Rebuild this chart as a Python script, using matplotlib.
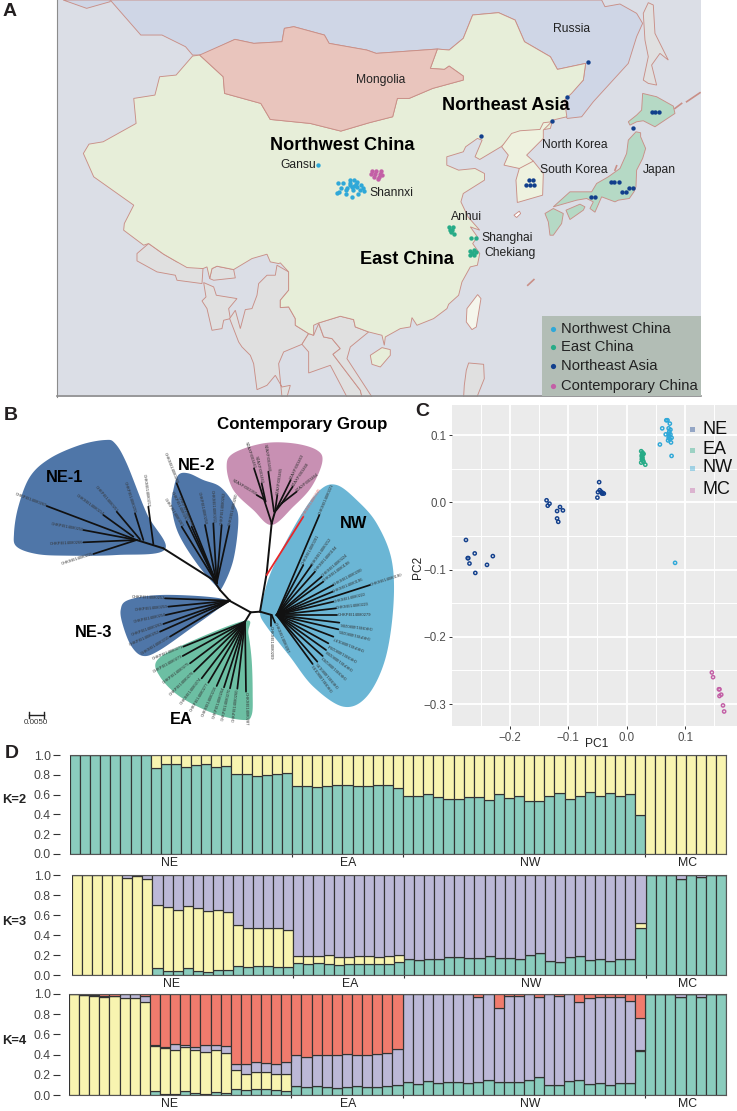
import numpy as np
import matplotlib
matplotlib.use('Agg')
import matplotlib.pyplot as plt
from matplotlib.patches import Polygon, Rectangle

W, H = 737, 1111
SANS = 'Liberation Sans'
plt.rcParams['font.family'] = SANS

# ---------- Panel A: map outlines (three working frames) ----------
def from_north(pts):   # close-up frame of the north-east part
    return [(1020.5+x*.708, y) for x, y in pts]
def from_south(pts):   # close-up frame of the southern part
    return [(122+x*.708, 690+y) for x, y in pts]

russia_west = [(235,0),(300,105),(345,105),(395,140),(410,165),(430,165),(500,118),(540,130),(600,125),(605,85),(625,80),(690,105),(700,130),(780,150),(800,160),(930,147),(955,150),(985,115),(1005,45),(1060,38),(1095,60),(1115,125),(1170,170),(1185,208),(1245,190),(1240,240),(1200,300)]
russia_coast = [(225,355),(255,345),(262,355),(305,350),(340,305),(445,190),(470,110),(488,70),(470,40),(420,12),(375,20),(365,0)]
russia_nw = [(135,0),(185,25),(235,5),(235,0)]
china_north = [(410,168),(425,165),(475,230),(478,280),(555,310),(575,358),(660,370),(725,393),(785,368),(835,350),(845,295),(870,295),(920,265),(985,240),(985,228),(955,198),(945,208),(915,205),(930,147),(955,150),(985,115),(1005,45),(1060,38),(1095,60),(1115,125),(1170,170),(1185,208),(1245,190),(1240,240),(1215,280),(1200,300),(1205,350),(1175,360),(1170,385),(1130,395),(1095,405),(1065,440),(1020,478),(1010,470),(1025,420),(1015,415),(990,440),(985,455),(950,470),(950,495),(975,510),(1010,505),(1030,520),(1030,540),(985,580),(980,605),(995,650),(1020,690),(1000,680),(1015,710),(1005,730),(1020,760),(1015,795)]
china_south = [(1240,110),(1215,155),(1205,195),(1175,222),(1170,235),(1130,265),(1080,285),(1065,262),(1060,290),(1030,295),(985,320),(982,345),(975,315),(935,305),(895,290),(890,268),(850,258),(785,278),(770,285),(770,315),(755,310),(715,285),(715,265),(695,230),(670,232),(670,210),(695,180),(695,125),(670,98),(665,100),(640,95),(630,72),(585,85),(530,118),(480,108),(465,115),(458,145),(450,110),(438,115),(390,112),(360,95),(320,72),(275,40),(260,45),(200,0)]
china_west = [(265,670),(285,615),(245,575),(200,530),(178,460),(190,432),(220,425),(290,370),(285,295),(330,285),(340,230),(375,225)]
mongolia_outline = [(425,165),(500,118),(540,130),(600,125),(605,85),(625,80),(690,105),(700,130),(780,150),(800,160),(930,147),(915,205),(945,208),(955,198),(985,228),(985,240),(920,265),(870,295),(845,295),(835,350),(785,368),(725,393),(660,370),(575,358),(555,310),(478,280),(475,230)]
korea_outline = [(215,365),(190,368),(180,388),(120,392),(95,400),(65,440),(85,465),(72,495),(118,505),(108,540),(112,607),(188,585),(190,520),(160,483),(140,465),(190,415),(190,390)]
korea_border = [(118,505),(160,483)]
honshu_outline = [(468,395),(482,398),(482,410),(497,445),(488,475),(470,510),(468,560),(462,575),(448,595),(415,600),(405,605),(365,590),(345,636),(330,625),(340,605),(320,595),(290,600),(220,620),(270,575),(335,575),(350,550),(385,530),(420,505),(440,460),(445,420)]
hokkaido_outline = [(488,280),(530,290),(580,318),(585,340),(525,380),(490,362),(470,365),(450,375),(445,365),(470,345),(485,330)]
kyushu_outline = [(195,640),(220,625),(250,640),(245,670),(220,705),(210,705),(205,665)]
shikoku_outline = [(258,630),(300,612),(315,620),(310,630),(270,658)]
jeju_outline = [(102,645),(118,633),(122,640),(110,652)]
sakhalin_outline = [(490,40),(505,8),(520,15),(525,100),(565,180),(540,160),(515,195),(530,255),(505,250),(490,240),(505,170),(495,120)]
kuril_a = [(585,325),(605,310)]
kuril_b = [(620,305),(660,278)]
sado_line = [(405,510),(410,497)]
nepal_outline = [(275,40),(240,70),(240,92),(300,125),(355,135),(360,150),(435,160),(438,115),(360,95),(320,72)]
bhutan_outline = [(458,145),(465,115),(480,108),(530,118),(535,143),(470,150)]
bangla_outline = [(440,157),(470,170),(478,195),(540,205),(515,235),(520,265),(500,270),(495,295),(465,300),(450,235),(435,212),(447,200)]
myanmar_outline = [(660,105),(655,135),(630,135),(605,160),(600,195),(585,235),(565,238),(550,295),(535,240),(518,265),(545,335),(555,350),(580,375),(590,400),(600,478),(630,465),(655,435),(675,470),(700,465),(690,500),(675,500),(665,400),(680,365),(735,342),(755,310),(715,285),(715,265),(695,230),(670,232),(670,210),(695,180),(695,125)]
thai_outline = [(735,342),(755,310),(770,315),(785,280),(800,320),(825,325),(850,355),(828,372),(910,480),(915,500),(870,500),(820,405),(755,428),(755,365)]
indochina_outline = [(785,278),(850,258),(890,268),(895,290),(935,305),(880,350),(870,385),(945,500),(915,500),(910,480),(828,372),(850,355),(825,325),(800,320)]
hainan_outline = [(940,375),(975,352),(1000,358),(1000,375),(970,410),(945,402)]
taiwan_outline = [(1262,193),(1272,205),(1258,290),(1245,298),(1228,275),(1230,235)]
luzon_outline = [(1235,398),(1280,402),(1282,445),(1260,500),(1220,500),(1222,465),(1228,420)]
diaoyu_line = [(1122,855),(1135,838)]

map_nw_pts = [(718,550),(730,548),(745,540),(752,540),(760,545),(768,555),(772,565),(745,555),(752,558),(760,560),(738,565),(725,565),(720,575),(735,570),(750,570),(765,570),(775,572),(735,582),(748,592),(762,582),(716,578),(745,548),(757,552),(748,562),(677,495)]
map_mc_pts = [(792,512),(800,512),(810,514),(790,522),(798,522),(808,522),(796,530),(806,530),(803,538),(812,525)]
map_ea_pts = [(955,680),(963,680),(957,688),(962,690),(958,695),(965,700),(1002,712),(1012,712),(1000,752),(1008,750),(1004,758),(1000,765),(1007,765),(1012,755)]
map_ne_pts = [(1250,186),(1205,290),(1173,362),(1022,409),(1345,383),(1385,335),(1393,335),(1400,335),(1125,540),(1133,540),(1119,555),(1127,555),(1136,555),(1298,545),(1306,545),(1316,545),(1338,565),(1346,565),(1322,576),(1330,576),(1256,590),(1265,590)]
map_small_labels = [('Russia',1216,88),('Mongolia',810,240),('North Korea',1222,435),('South Korea',1220,510),('Japan',1402,510),('Gansu',635,494),('Shannxi',833,580),('Anhui',992,651),('Shanghai',1079,712),('Chekiang',1084,758)]
map_big_labels = [('Northeast Asia',1075,317),('Northwest China',728,435),('East China',865,779)]
map_legend_names = ['Northwest China','East China','Northeast Asia','Contemporary China']
map_legend_ys = [985,1040,1097,1158]

C_NW, C_EA, C_NE, C_MC = '#2fa8d8', '#27ab87', '#123f8c', '#c35fa6'

# ---------- Panel B: unrooted tree ----------
blob_ne1 = [(495,448),(440,340),(380,190),(345,130),(315,120),(240,135),(150,175),(90,230),(55,320),(42,400),(50,440),(110,462),(200,467),(350,465)]
blob_ne2 = [(665,565),(700,480),(715,360),(700,310),(660,260),(610,240),(565,220),(535,225),(520,270),(515,320),(535,400),(590,490),(650,560)]
blob_ne3 = [(680,603),(620,590),(480,585),(385,600),(362,630),(370,680),(395,740),(430,768),(480,750),(580,680),(650,630)]
blob_ea = [(735,662),(560,730),(472,780),(480,830),(540,890),(640,940),(730,960),(755,945),(758,880),(755,780),(745,700)]
blob_nw = [(780,640),(800,680),(870,770),(940,860),(1030,920),(1100,890),(1155,780),(1180,620),(1175,480),(1130,370),(1070,300),(1010,255),(960,270),(900,350),(820,500),(790,590)]
blob_mc = [(815,375),(760,330),(700,270),(680,200),(700,160),(790,130),(880,130),(950,150),(967,185),(935,260),(880,320)]

tree_edges = [((752,637),(780,635)),((780,635),(815,645)),((780,635),(800,520)),((800,520),(815,370)),((752,637),(690,603)),((690,603),(660,570)),((660,570),(640,540)),((640,540),(490,445)),((490,445),(410,420)),((752,637),(735,665)),((815,370),(825,335)),((825,335),(845,310))]
ne1_hubs = [(410,420),(410,420),(410,420),(410,420),(420,418),(430,420),(460,432),(400,410)]
ne1_tips = [(140,318),(250,390),(250,427),(280,462),(350,335),(405,340),(445,320),(310,345)]
ne1_names = ['CHKPEI14080269','CHKPEI14080250','CHKPEI14080266','CHKSEI14080215','CHKPEI14080251','CHKPEI14080255','CHKSEI14080213','CHKSEI14080214']
ne2_hubs = [(650,550)]*8
ne2_tips = [(530,250),(545,380),(560,365),(575,380),(615,375),(640,370),(665,375),(688,378)]
ne2_names = ['CHKSEI14080268','CHKPEI14080267','CHKPEI14080261','CHKPEI14080262','CHKPEI14080258','CHKSEI14080211','CHKPEI14080262','CHKSEI14080260']
ne3_hubs = [(690,602)]*6
ne3_tips = [(495,595),(505,620),(497,645),(490,672),(480,695),(510,710)]
ne3_names = ['CHKPEI14080253','CHKPEI14080259','CHKPEI14080254','CHKPEI14080263','CHKPEI14080252','CHKSEI14080210']
ea_hubs = [(735,665)]*11
ea_tips = [(550,740),(548,768),(570,790),(582,815),(605,835),(625,848),(650,858),(672,862),(690,865),(712,866),(738,875)]
ea_names = ['CHKPEI14080271','CHKPEI14080273','CHKPEI14080275','CHKPEI14080276','CHKSEI14080274','CHKPEI14080277','CHKSEI14080216','CHKPEI14080264','CHKPEI14080270','CHKPEI14080260','CHKSEI14080287']
nw_hubs = [(830,645)]*20
nw_tips = [(958,345),(910,495),(935,495),(945,515),(965,530),(970,545),(1000,555),(998,575),(1110,555),(1000,605),(1008,625),(1012,645),(1018,668),(1015,688),(1000,710),(985,730),(978,750),(968,768),(952,785),(938,792)]
nw_names = ['CHKSEI14080221','CHKSEI14080201','CHKSEI14080212','CHKSEI14080194','CHKSEI14080224','CHKSEI14080198','CHKSEI14080200','CHKSEI14080196','CHKSEI14080190','CHKSEI14080222','CHKSEI14080223','CHKPEI14080279','CHKSEI14080206','CHKPEI14080205','CHKPEI14080197','CHKSEI14080204','CHKPEI14080208','CHKSEI14080203','CHKSEI14080195','CHKSEI14080193']
nw_flip_from = 12
red_edge = ((800,525),(910,350))
red_name = 'CHKSEI14080245'
stem_hubs = [(812,645),(815,645)]
stem_tips = [(812,678),(825,668)]
stem_names = ['CHKSEI14080209','CHKSEI14080207']
mc_hubs = [(815,370),(795,300),(797,305),(822,335),(825,335),(828,330),(845,310),(845,310)]
mc_tips = [(762,205),(770,285),(785,250),(805,215),(832,285),(872,240),(878,260),(890,275)]
mc_names = ['SZAXPI003461','SZAXPI003950','SZAXPI003462','SZAXPI003460','SZAXPI003465','SZAXPI003463','SZAXPI003468','SZAXPI003464']
tree_big_labels = [('NE-1',193,232),('NE-2',591,198),('NE-3',282,698),('EA',544,960),('NW',1060,372),('Contemporary Group',908,73)]

# ---------- Panel C: PCA ----------
pc_ne_x = [-.275,-.272,-.271,-.269,-.26,-.259,-.239,-.229,-.137,-.135,-.132,-.119,-.114,-.109,-.119,-.117,-.047,-.050,-.049,-.046,-.044,-.042,-.039,-.041]
pc_ne_y = [-.056,-.083,-.083,-.091,-.076,-.105,-.093,-.080,.003,-.005,-.002,-.013,-.007,-.012,-.024,-.029,.030,.007,.015,.018,.016,.013,.013,.014]
pc_ea_x = [.025,.027,.028,.026,.029,.027,.026,.028,.025,.029,.032,.027,.026]
pc_ea_y = [.076,.074,.072,.070,.072,.067,.064,.062,.059,.060,.056,.065,.068]
pc_nw_x = [.068,.070,.074,.061,.072,.075,.067,.072,.075,.072,.077,.073,.071,.076,.057,.077,.083,.074,.073]
pc_nw_y = [.122,.122,.117,.110,.110,.108,.101,.102,.101,.096,.096,.098,.092,.089,.086,.069,-.090,.094,.105]
pc_mc_x = [.146,.148,.158,.159,.162,.159,.165,.167]
pc_mc_y = [-.253,-.260,-.278,-.278,-.286,-.288,-.302,-.311]
pc_legend = ['NE','EA','NW','MC']

# ---------- Panel D: admixture proportions ----------
k2_teal = [1]*8 + [.87,.905,.905,.875,.895,.91,.875,.89,.81,.81,.79,.795,.81,.815] + \
    [.685,.69,.68,.69,.70,.695,.69,.69,.70,.695,.665] + \
    [.582,.582,.606,.572,.559,.559,.572,.579,.549,.603,.569,.582,.535,.532,.589,.62,.552,.586,.626,.582,.613,.582,.609,.397] + [0]*8
k3_teal = [0]*8 + [.075,.04,.04,.07,.045,.035,.055,.05,.09,.085,.095,.095,.085,.085] + \
    [.125,.11,.12,.115,.105,.11,.115,.11,.11,.115,.13] + \
    [.164,.154,.164,.161,.181,.178,.171,.174,.191,.171,.168,.164,.198,.218,.141,.131,.185,.191,.151,.164,.138,.161,.161,.466] + [1,1,1,.96,1,.985,1,1]
k3_yellow_top = [1,1,1,1,1,.975,.99,.96,.705,.685,.654,.688,.668,.638,.651,.631,.50,.47,.47,.473,.466,.453] + \
    [.195,.19,.19,.205,.18,.185,.19,.19,.185,.195,.2] + \
    [.164,.154,.164,.161,.181,.178,.171,.174,.191,.171,.168,.164,.198,.218,.141,.131,.185,.191,.151,.164,.138,.161,.161,.52] + [1,1,1,.96,1,.985,1,1]
k4_teal = [0]*8 + [.04,.01,.01,.04,.015,.01,.03,.02,.055,.045,.055,.06,.05,.04] + \
    [.09,.08,.09,.08,.07,.08,.085,.08,.08,.085,.10] + \
    [.129,.109,.136,.119,.132,.132,.123,.132,.146,.132,.126,.126,.152,.179,.103,.096,.139,.152,.113,.123,.099,.119,.119,.44] + [1,1,1,.97,1,.975,1,1]
k4_yellow_top = [1,.99,.985,.975,.98,.96,.96,.92,.49,.467,.444,.477,.447,.427,.444,.417,.245,.212,.225,.228,.209,.205] + \
    [.09,.08,.09,.08,.07,.08,.085,.08,.08,.085,.10] + \
    [.129,.109,.136,.119,.132,.132,.123,.132,.146,.132,.126,.126,.152,.179,.103,.096,.139,.152,.113,.123,.099,.119,.119,.45] + [1,1,1,.97,1,.975,1,1]
k4_purple_top = [1,.995,.995,.98,.985,1,1,.985,.497,.473,.507,.5,.48,.5,.5,.487,.305,.305,.325,.32,.308,.331] + \
    [.397,.377,.397,.397,.397,.404,.4,.397,.407,.417,.46] + \
    [1,1,1,1,1,1,1,.975,1,.858,.977,.983,1,.967,1,.977,1,.917,.964,.97,.97,.97,.927,.765] + [1]*8
group_names = ['NE','EA','NW','MC']
group_label_pos = [9.4,27.1,45.1,60.7]
group_bounds = [21.5,32.5,56.5]
y_ticks = [0,.2,.4,.6,.8,1.0]

TEAL, YEL, PUR, RED = '#8accbd', '#f8f4b0', '#bcb8d7', '#f07b6d'
EDGE = '#333333'

fig = plt.figure(figsize=(W/100, H/100), dpi=100, facecolor='white')

def px_axes(x0, y0, x1, y1, **kw):
    return fig.add_axes([x0/W, 1-y1/H, (x1-x0)/W, (y1-y0)/H], **kw)

def closed_spline(pts, n=14):
    p = np.array(pts, float)
    out = []
    m = len(p)
    for i in range(m):
        p0, p1, p2, p3 = p[i-1], p[i], p[(i+1) % m], p[(i+2) % m]
        for t in np.linspace(0, 1, n, endpoint=False):
            out.append(.5*((2*p1)+(p2-p0)*t+(2*p0-5*p1+4*p2-p3)*t**2+(3*p1-p0-3*p2+p3)*t**3))
    return np.array(out)

# ---- A ----
axA = px_axes(57, 0, 701, 397)
axA.set_xlim(122, 1490); axA.set_ylim(1190, 0)
axA.set_xticks([]); axA.set_yticks([])
axA.set_facecolor('#dbdee6')
for s in axA.spines.values():
    s.set_visible(False)
axA.spines['left'].set_visible(True); axA.spines['left'].set_color('#8c8c8c')
BORDER = '#c98f87'
def land(pts, fc, z=2):
    axA.add_patch(Polygon(pts, closed=True, fc=fc, ec=BORDER, lw=.65, zorder=z))
land(russia_west + from_north(russia_coast), '#cfd6e6'); land(russia_nw, '#cfd6e6')
for poly in (nepal_outline, bhutan_outline, bangla_outline, myanmar_outline, thai_outline, indochina_outline, luzon_outline):
    land(from_south(poly), '#e0e0e0')
land(from_north(sakhalin_outline), '#e0e0e0')
land(china_north + from_south(china_south) + china_west, '#e7eed9', 3)
land(from_south(hainan_outline), '#e7eed9', 3)
land(mongolia_outline, '#e9c5bd', 4)
land(from_north(korea_outline), '#eef2df', 3)
axA.plot(*zip(*from_north(korea_border)), color=BORDER, lw=.65, zorder=3.5)
for p in (honshu_outline, hokkaido_outline, kyushu_outline, shikoku_outline):
    land(from_north(p), '#b5d9c5', 3)
land(from_south(taiwan_outline), '#f5f6ec', 3)
land(from_north(jeju_outline), '#ffffff', 3)
for ln in (from_north(kuril_a), from_north(kuril_b), from_north(sado_line), diaoyu_line):
    axA.plot(*zip(*ln), color=BORDER, lw=1.2, zorder=3)
axA.plot([122, 1490], [1188, 1188], color='#8c8c8c', lw=1.2, zorder=6, clip_on=False)
for pts, c in ((map_nw_pts, C_NW), (map_mc_pts, C_MC), (map_ea_pts, C_EA), (map_ne_pts, C_NE)):
    axA.scatter(*zip(*pts), s=10, color=c, lw=0, zorder=7)
for t, x, y in map_small_labels:
    axA.text(x, y, t, fontsize=8.7, ha='center', va='center', color='#222222', zorder=8)
for t, x, y in map_big_labels:
    axA.text(x, y, t, fontsize=13.1, weight='bold', ha='center', va='center', color='black', zorder=8)
axA.add_patch(Rectangle((1152, 948), 338, 240, fc='#b2bdb5', ec='none', zorder=7))
for t, y, c in zip(map_legend_names, map_legend_ys, (C_NW, C_EA, C_NE, C_MC)):
    axA.scatter([1175], [y], s=14, color=c, lw=0, zorder=8)
    axA.text(1192, y, t, fontsize=10.6, ha='left', va='center', color='#222222', zorder=8)

# ---- B ----
axB = px_axes(0, 400, 400, 740)
axB.set_xlim(0, 1200); axB.set_ylim(1020, 0); axB.axis('off')
for blob, c in ((blob_ne1, '#4f76a8'), (blob_ne2, '#4f76a8'), (blob_ne3, '#4f76a8'), (blob_ea, '#6cbfa3'), (blob_nw, '#6bb6d5'), (blob_mc, '#c890b3')):
    axB.add_patch(Polygon(closed_spline(blob), closed=True, fc=c, ec='none', zorder=1))
def branch(hub, tip, name, color='#111111', flip=False, lw=1.25, tc='#333333'):
    axB.plot([hub[0], tip[0]], [hub[1], tip[1]], color=color, lw=lw, solid_capstyle='round', zorder=3)
    dx, dy = tip[0]-hub[0], tip[1]-hub[1]
    ang = np.degrees(np.arctan2(-dy, dx))
    left = dx < 0
    if flip:
        left = not left
    rot = ang + 180 if (dx < 0) != flip else ang
    axB.text(tip[0], tip[1], name, fontsize=3.0, color=tc, rotation=rot, rotation_mode='anchor',
             ha='right' if left else 'left', va='center', zorder=4)
for a, b in tree_edges:
    axB.plot([a[0], b[0]], [a[1], b[1]], color='#111111', lw=1.4, zorder=3, solid_capstyle='round')
for hubs, tips, names in ((ne1_hubs, ne1_tips, ne1_names), (ne2_hubs, ne2_tips, ne2_names),
                          (ne3_hubs, ne3_tips, ne3_names), (ea_hubs, ea_tips, ea_names),
                          (mc_hubs, mc_tips, mc_names)):
    for h, t, n in zip(hubs, tips, names):
        branch(h, t, n)
for i, (h, t, n) in enumerate(zip(nw_hubs, nw_tips, nw_names)):
    branch(h, t, n, flip=i >= nw_flip_from)
branch(red_edge[0], red_edge[1], red_name, color='#e8282a', lw=1.3, tc='#e8605a')
for h, t, n in zip(stem_hubs, stem_tips, stem_names):
    branch(h, t, n)
for t, x, y in tree_big_labels:
    axB.text(x, y, t, fontsize=11.8 if t != 'Contemporary Group' else 12.2, weight='bold', ha='center', va='center', color='black', zorder=5)
axB.plot([87, 132], [945, 945], color='#222222', lw=1)
axB.plot([87, 87], [936, 954], color='#222222', lw=1)
axB.plot([132, 132], [936, 954], color='#222222', lw=1)
axB.text(108, 968, '0.0050', fontsize=5.8, ha='center', va='center', color='#333333')

# ---- C ----
axC = px_axes(452, 405, 737, 726)
axC.set_xlim(-.2989, .189); axC.set_ylim(-.3326, .1447)
axC.set_facecolor('#ebebeb')
for s in axC.spines.values():
    s.set_visible(False)
axC.set_xticks([-.2, -.1, 0, .1]); axC.set_xticklabels(['\u22120.2', '\u22120.1', '0.0', '0.1'])
axC.set_yticks([-.3, -.2, -.1, 0, .1]); axC.set_yticklabels(['\u22120.3', '\u22120.2', '\u22120.1', '0.0', '0.1'])
axC.set_xticks([-.25, -.15, -.05, .05, .15], minor=True)
axC.set_yticks([-.25, -.15, -.05, .05], minor=True)
axC.grid(True, which='major', color='white', lw=1.3)
axC.grid(True, which='minor', color='white', lw=.7)
axC.set_axisbelow(True)
axC.tick_params(which='major', length=2, width=.7, color='#333333', labelsize=8.3, labelcolor='#4d4d4d', pad=2)
axC.tick_params(which='minor', length=0)
for xs, ys, c in ((pc_ne_x, pc_ne_y, C_NE), (pc_ea_x, pc_ea_y, C_EA), (pc_nw_x, pc_nw_y, C_NW), (pc_mc_x, pc_mc_y, C_MC)):
    axC.scatter(xs, ys, s=5.5, facecolor='none', edgecolor=c, lw=1.05, zorder=3)

# ---- D ----
def structure(x0, y0, y1, layers):
    ax = px_axes(x0, y0, 726, y1)
    n = len(k2_teal)
    xs = np.arange(n)
    prev = np.zeros(n)
    for top, c in layers:
        top = np.array(top, float)
        ax.bar(xs, top-prev, bottom=prev, width=1, color=c, edgecolor=EDGE, lw=.85)
        prev = top
    ax.set_xlim(-.5, n-.5); ax.set_ylim(0, 1)
    for k in ('top', 'right', 'bottom'):
        ax.spines[k].set_color('#555555'); ax.spines[k].set_linewidth(.8)
    ax.spines['left'].set_position(('outward', (x0-60)*.72))
    ax.spines['left'].set_visible(False)
    ax.set_yticks(y_ticks); ax.set_yticklabels(['%.1f' % v for v in y_ticks])
    ax.tick_params(axis='y', length=5, width=.8, color='#333333', labelsize=8.8, labelcolor='#444444', pad=1.5)
    ax.set_xticks(group_bounds); ax.set_xticklabels([])
    ax.tick_params(axis='x', which='major', length=2.5, width=.8, color='#333333')
    ax.set_xticks(group_label_pos, minor=True); ax.set_xticklabels(group_names, minor=True)
    ax.tick_params(axis='x', which='minor', length=0, labelsize=8.8, labelcolor='#222222', pad=2.5)
    return ax

structure(70, 755, 854, [(k2_teal, TEAL), ([1]*65, YEL)])
structure(72, 875, 975, [(k3_teal, TEAL), (k3_yellow_top, YEL), ([1]*65, PUR)])
structure(69, 994, 1095, [(k4_teal, TEAL), (k4_yellow_top, YEL), (k4_purple_top, PUR), ([1]*65, RED)])

# ---- overlay: panel letters, axis titles, legend of C, K labels ----
ov = fig.add_axes([0, 0, 1, 1], facecolor='none')
ov.set_xlim(0, W); ov.set_ylim(H, 0); ov.axis('off')
for t, x, y in (('A', 10, 12), ('B', 11, 415), ('C', 422, 412), ('D', 12, 754)):
    ov.text(x, y, t, fontsize=14, weight='bold', ha='center', va='center', color='#231f20')
ov.text(597, 744, 'PC1', fontsize=8.6, ha='center', va='center', color='#222222')
ov.text(418, 567, 'PC2', fontsize=8.6, rotation=90, ha='center', va='center', color='#222222')
for t, y, c in zip(pc_legend, (429, 450, 468, 490), (C_NE, C_EA, C_NW, C_MC)):
    ov.add_patch(Rectangle((690.5, y-2.5), 5, 5, fc=c, alpha=.4, ec='none'))
    ov.text(703, y, t, fontsize=13, ha='left', va='center', color='#111111')
for t, y in (('K=2', 800), ('K=3', 922), ('K=4', 1041)):
    ov.text(14, y, t, fontsize=9.4, weight='bold', ha='center', va='center', color='#222222')

fig.savefig('out.png', dpi=100)
